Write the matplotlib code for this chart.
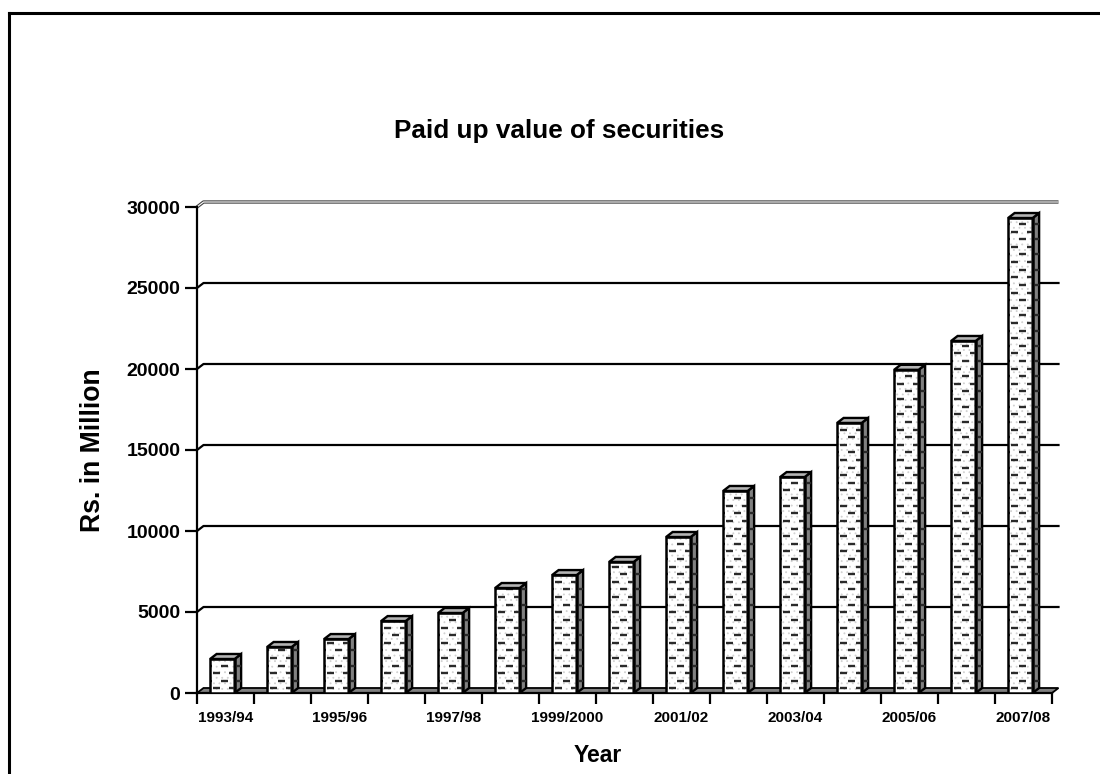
import numpy as np
import matplotlib.pyplot as plt
from matplotlib.patches import Polygon, Rectangle
from matplotlib.collections import LineCollection
from matplotlib.lines import Line2D

plt.rcParams['font.family'] = ['Liberation Sans', 'DejaVu Sans']
plt.rcParams['font.weight'] = 'bold'
plt.rcParams['hatch.linewidth'] = 0.6

# paid up value of securities, Rs. million
years = ['1993/94', '1994/95', '1995/96', '1996/97', '1997/98', '1998/99',
         '1999/2000', '2000/01', '2001/02', '2002/03', '2003/04', '2004/05',
         '2005/06', '2006/07', '2007/08']
values = [2100, 2840, 3330, 4440, 4940, 6480, 7280, 8090,
          9630, 12470, 13330, 16670, 19950, 21730, 29320]
y_ticks = [0, 5000, 10000, 15000, 20000, 25000, 30000]

fig = plt.figure(figsize=(11, 7.74), dpi=100)
ax = fig.add_axes([197 / 1100, 81 / 774, 855 / 1100, 486 / 774])
n = len(years)
ax.set_xlim(0, n)
ax.set_ylim(0, 30000)

# fake 3d depth (in data units)
dx = 6.5 / 57
dy = 5 * 30000 / 486

# floor
floor = Polygon([(0, 0), (n, 0), (n + dx, dy), (dx, dy)], closed=True,
                facecolor='#808080', edgecolor='black', lw=1.3, clip_on=False, zorder=1)
ax.add_patch(floor)

# back wall gridlines with the little diagonal from the axis
for yv in y_ticks[1:]:
    xs = [0, dx, n + dx]
    ys = [yv, yv + dy, yv + dy]
    if yv == y_ticks[-1]:
        ax.plot(xs, ys, color='#404040', lw=2.4, clip_on=False, zorder=2, solid_capstyle='butt')
        ax.plot(xs, ys, color='white', lw=0.8, clip_on=False, zorder=2, solid_capstyle='butt')
    else:
        ax.plot(xs, ys, color='black', lw=1.6, clip_on=False, zorder=2)

# bars
x_off = 0.23
w = 0.43
row_step = 470
period = 0.28
dash = 0.13
for i, v in enumerate(values):
    x0 = i + x_off
    front = Rectangle((x0, 0), w, v, facecolor='white', edgecolor='#d2d2d2',
                      lw=0, hatch='...', zorder=3)
    ax.add_patch(front)
    side = Polygon([(x0 + w, 0), (x0 + w + dx, dy), (x0 + w + dx, v + dy), (x0 + w, v)],
                   closed=True, facecolor='#808080', edgecolor='black', lw=1.7, zorder=3)
    top = Polygon([(x0, v), (x0 + dx, v + dy), (x0 + w + dx, v + dy), (x0 + w, v)],
                  closed=True, facecolor='#b4b4b4', edgecolor='black', lw=1.7, zorder=3)
    ax.add_patch(side)
    ax.add_patch(top)

    # dashed horizontal fill pattern, clipped to the bar body
    segs = []
    k = 0
    while row_step * (k + 0.6) < v:
        yk = row_step * (k + 0.6)
        start = x0 + 0.05 + (k % 2) * period / 2
        for m in range(-1, 4):
            xa = start + m * period
            segs.append([(xa, yk), (xa + dash, yk)])
        k += 1
    body = Polygon([(x0, 0), (x0 + w, 0), (x0 + w + dx, dy), (x0 + w + dx, v + dy),
                    (x0 + w, v), (x0, v)], closed=True, transform=ax.transData)
    lc = LineCollection(segs, colors='#2a2a2a', linewidths=1.7, zorder=4)
    ax.add_collection(lc)
    lc.set_clip_path(body)

    outline = Rectangle((x0, 0), w, v, fill=False, edgecolor='black', lw=1.8, zorder=5)
    ax.add_patch(outline)

# axes
for s in ['top', 'right']:
    ax.spines[s].set_visible(False)
ax.spines['left'].set_linewidth(1.6)
ax.spines['bottom'].set_linewidth(1.6)
ax.spines['left'].set_zorder(6)

ax.set_yticks(y_ticks)
ax.set_yticklabels([str(t) for t in y_ticks], fontsize=14, fontweight='bold')
ax.tick_params(axis='y', length=9, width=1.6, pad=3)

ax.set_xticks(np.arange(n + 1))
ax.set_xticklabels([''] * (n + 1))
ax.tick_params(axis='x', which='major', length=8, width=1.6)
ax.set_xticks(np.arange(n) + 0.5, minor=True)
ax.set_xticklabels([y if i % 2 == 0 else '' for i, y in enumerate(years)],
                   minor=True, fontsize=11, fontweight='bold')
ax.tick_params(axis='x', which='minor', length=0, pad=13)

fig.text(559 / 1100, 1 - 131 / 774, 'Paid up value of securities', fontsize=18.8,
         fontweight='bold', ha='center', va='center')
fig.text(93 / 1100, 1 - 450 / 774, 'Rs. in Million', fontsize=19.2, fontweight='bold',
         rotation=90, ha='center', va='center')
fig.text(598 / 1100, 1 - 756 / 774, 'Year', fontsize=16.5, fontweight='bold',
         ha='center', va='center')

# chart area border
fig.add_artist(Line2D([8.5 / 1100, 1], [1 - 12.5 / 774, 1 - 12.5 / 774], color='black', lw=2.2))
fig.add_artist(Line2D([8.5 / 1100, 8.5 / 1100], [0, 1 - 12.5 / 774], color='black', lw=2.2))

fig.savefig('out.png', dpi=100)
